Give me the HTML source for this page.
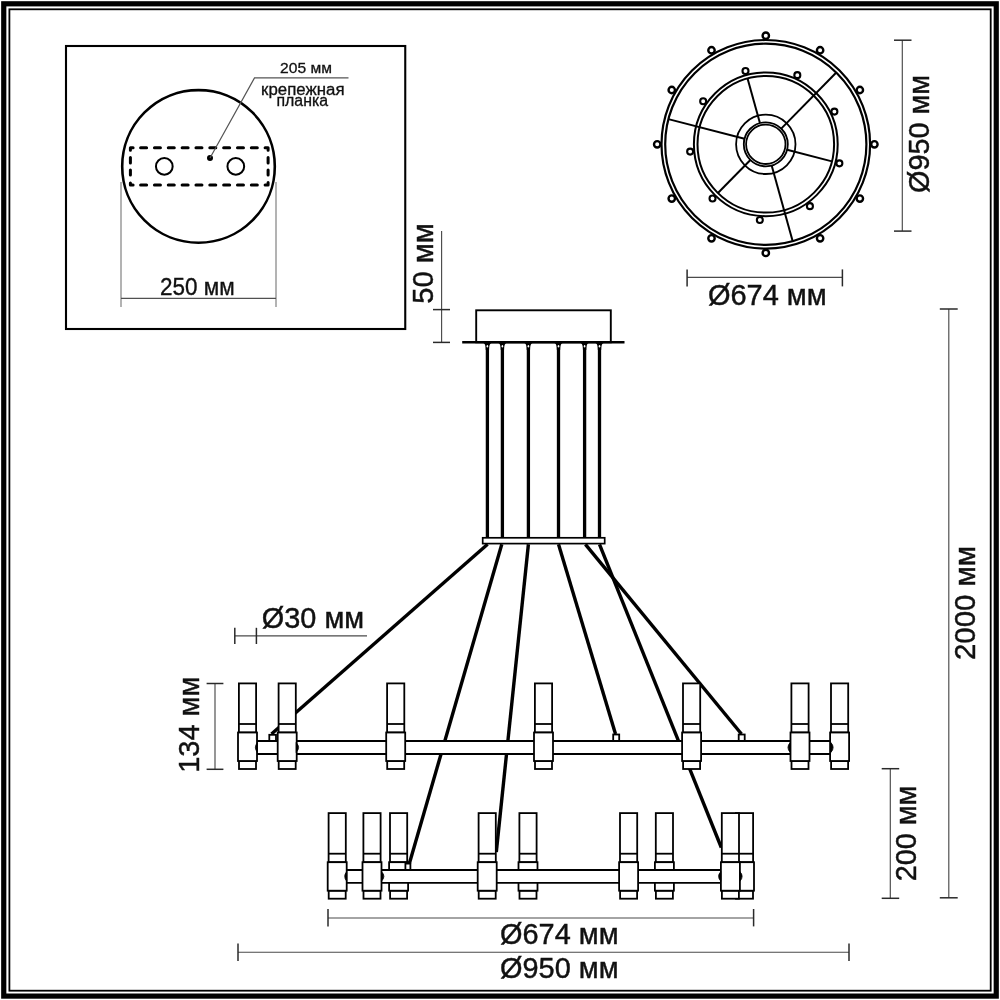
<!DOCTYPE html>
<html><head><meta charset="utf-8"><title>drawing</title>
<style>
html,body{margin:0;padding:0;background:#fff;width:1000px;height:1000px;overflow:hidden;}
svg{display:block;will-change:transform;}
text{font-family:"Liberation Sans",sans-serif;}
</style></head><body>
<svg width="1000" height="1000" viewBox="0 0 1000 1000">
<rect x="3.75" y="3.8" width="992.5" height="992.3" fill="none" stroke="#000" stroke-width="5.2"/>
<rect x="9.4" y="9.3" width="981.3" height="981.4" fill="none" stroke="#000" stroke-width="1.8"/>
<rect x="66" y="46" width="339.25" height="283" fill="none" stroke="#000" stroke-width="2.1"/>
<circle cx="198.5" cy="166.4" r="76.3" fill="none" stroke="#000" stroke-width="2.6"/>
<path d="M130.4,150.2 L130.4,147.8 L133.1,147.8 M265.1,147.8 L268.1,147.8 L268.1,150.2 M268.1,182.6 L268.1,185.0 L265.1,185.0 M133.1,185.0 L130.4,185.0 L130.4,182.9 M140.60,147.8 L146.60,147.8 M140.60,185.0 L146.60,185.0 M154.44,147.8 L160.44,147.8 M154.44,185.0 L160.44,185.0 M168.28,147.8 L174.28,147.8 M168.28,185.0 L174.28,185.0 M182.12,147.8 L188.12,147.8 M182.12,185.0 L188.12,185.0 M195.96,147.8 L201.96,147.8 M195.96,185.0 L201.96,185.0 M209.80,147.8 L215.80,147.8 M209.80,185.0 L215.80,185.0 M223.64,147.8 L229.64,147.8 M223.64,185.0 L229.64,185.0 M237.48,147.8 L243.48,147.8 M237.48,185.0 L243.48,185.0 M251.32,147.8 L257.32,147.8 M251.32,185.0 L257.32,185.0 M130.4,157.4 L130.4,163.0 M268.1,157.4 L268.1,163.0 M130.4,169.9 L130.4,175.1 M268.1,169.9 L268.1,175.1" fill="none" stroke="#000" stroke-width="3" stroke-linecap="round" stroke-linejoin="round"/>
<circle cx="164.3" cy="166.4" r="8.35" fill="none" stroke="#000" stroke-width="2.0"/>
<circle cx="235.8" cy="166.4" r="8.35" fill="none" stroke="#000" stroke-width="2.0"/>
<circle cx="210" cy="158.1" r="3.0" fill="#000"/>
<polyline points="210,158 254.5,77.9 348.5,77.9" fill="none" stroke="#555" stroke-width="1.2"/>
<line x1="121" y1="182" x2="121" y2="307" stroke="#808080" stroke-width="1.2"/>
<line x1="276" y1="182" x2="276" y2="307" stroke="#808080" stroke-width="1.2"/>
<line x1="121" y1="298.4" x2="276" y2="298.4" stroke="#505050" stroke-width="1.2"/>
<text x="280.1" y="73.2" font-size="15.2" fill="#111" stroke="#111" stroke-width="0.30" textLength="51.86" lengthAdjust="spacingAndGlyphs">205 мм</text>
<text x="261.1" y="95.2" font-size="15.8" fill="#111" stroke="#111" stroke-width="0.32" textLength="83.43" lengthAdjust="spacingAndGlyphs">крепежная</text>
<text x="276.5" y="106.2" font-size="15.8" fill="#111" stroke="#111" stroke-width="0.32" textLength="51.61" lengthAdjust="spacingAndGlyphs">планка</text>
<text x="160.0" y="294.5" font-size="23.4" fill="#111" stroke="#111" stroke-width="0.35" textLength="74.67" lengthAdjust="spacingAndGlyphs">250 мм</text>
<line x1="441.6" y1="231" x2="441.6" y2="343" stroke="#4a4a4a" stroke-width="1.15"/>
<line x1="433" y1="309.6" x2="450" y2="309.6" stroke="#2a2a2a" stroke-width="1.5"/>
<line x1="433" y1="342.4" x2="450" y2="342.4" stroke="#2a2a2a" stroke-width="1.5"/>
<text x="433.1" y="303.8" font-size="30.2" fill="#111" stroke="#111" stroke-width="0.45" textLength="80.5" lengthAdjust="spacingAndGlyphs" transform="rotate(-90 433.1 303.8)">50 мм</text>
<circle cx="765.8" cy="144.3" r="104.3" fill="none" stroke="#000" stroke-width="2.2"/>
<circle cx="765.8" cy="144.3" r="100.6" fill="none" stroke="#000" stroke-width="2.2"/>
<circle cx="765.8" cy="144.3" r="71.9" fill="none" stroke="#000" stroke-width="2.0"/>
<circle cx="765.8" cy="144.3" r="68.3" fill="none" stroke="#000" stroke-width="2.0"/>
<circle cx="765.8" cy="144.3" r="29.7" fill="none" stroke="#000" stroke-width="1.8"/>
<circle cx="765.8" cy="144.3" r="22.0" fill="none" stroke="#000" stroke-width="1.8"/>
<circle cx="765.8" cy="144.3" r="19.7" fill="none" stroke="#000" stroke-width="1.8"/>
<line x1="759.92" y1="123.10" x2="747.55" y2="78.48" stroke="#000" stroke-width="2.0"/>
<line x1="781.22" y1="128.61" x2="836.31" y2="72.55" stroke="#000" stroke-width="2.0"/>
<line x1="787.10" y1="149.81" x2="831.92" y2="161.40" stroke="#000" stroke-width="2.0"/>
<line x1="771.68" y1="165.50" x2="792.68" y2="241.24" stroke="#000" stroke-width="2.0"/>
<line x1="750.38" y1="159.99" x2="717.93" y2="193.02" stroke="#000" stroke-width="2.0"/>
<line x1="744.50" y1="138.79" x2="668.40" y2="119.11" stroke="#000" stroke-width="2.0"/>
<circle cx="765.80" cy="35.70" r="3.2" fill="#fff" stroke="#000" stroke-width="2.4"/>
<circle cx="820.10" cy="50.25" r="3.2" fill="#fff" stroke="#000" stroke-width="2.4"/>
<circle cx="859.85" cy="90.00" r="3.2" fill="#fff" stroke="#000" stroke-width="2.4"/>
<circle cx="874.40" cy="144.30" r="3.2" fill="#fff" stroke="#000" stroke-width="2.4"/>
<circle cx="859.85" cy="198.60" r="3.2" fill="#fff" stroke="#000" stroke-width="2.4"/>
<circle cx="820.10" cy="238.35" r="3.2" fill="#fff" stroke="#000" stroke-width="2.4"/>
<circle cx="765.80" cy="252.90" r="3.2" fill="#fff" stroke="#000" stroke-width="2.4"/>
<circle cx="711.50" cy="238.35" r="3.2" fill="#fff" stroke="#000" stroke-width="2.4"/>
<circle cx="671.75" cy="198.60" r="3.2" fill="#fff" stroke="#000" stroke-width="2.4"/>
<circle cx="657.20" cy="144.30" r="3.2" fill="#fff" stroke="#000" stroke-width="2.4"/>
<circle cx="671.75" cy="90.00" r="3.2" fill="#fff" stroke="#000" stroke-width="2.4"/>
<circle cx="711.50" cy="50.25" r="3.2" fill="#fff" stroke="#000" stroke-width="2.4"/>
<circle cx="745.49" cy="71.06" r="3.0" fill="#fff" stroke="#000" stroke-width="2.1"/>
<circle cx="797.32" cy="75.14" r="3.0" fill="#fff" stroke="#000" stroke-width="2.1"/>
<circle cx="834.40" cy="111.58" r="3.0" fill="#fff" stroke="#000" stroke-width="2.1"/>
<circle cx="839.38" cy="163.33" r="3.0" fill="#fff" stroke="#000" stroke-width="2.1"/>
<circle cx="809.93" cy="206.17" r="3.0" fill="#fff" stroke="#000" stroke-width="2.1"/>
<circle cx="759.84" cy="220.07" r="3.0" fill="#fff" stroke="#000" stroke-width="2.1"/>
<circle cx="712.53" cy="198.51" r="3.0" fill="#fff" stroke="#000" stroke-width="2.1"/>
<circle cx="690.15" cy="151.58" r="3.0" fill="#fff" stroke="#000" stroke-width="2.1"/>
<circle cx="703.17" cy="101.25" r="3.0" fill="#fff" stroke="#000" stroke-width="2.1"/>
<line x1="902.3" y1="40.2" x2="902.3" y2="231.1" stroke="#4a4a4a" stroke-width="1.15"/>
<line x1="894" y1="40.2" x2="911.5" y2="40.2" stroke="#2a2a2a" stroke-width="1.5"/>
<line x1="894" y1="231.1" x2="911.5" y2="231.1" stroke="#2a2a2a" stroke-width="1.5"/>
<text x="929.4" y="193.0" font-size="29.0" fill="#111" stroke="#111" stroke-width="0.43" textLength="118.2" lengthAdjust="spacingAndGlyphs" transform="rotate(-90 929.4 193.0)">Ø950 мм</text>
<line x1="687.1" y1="277.3" x2="842.4" y2="277.3" stroke="#4a4a4a" stroke-width="1.15"/>
<line x1="687.1" y1="269.4" x2="687.1" y2="286.4" stroke="#2a2a2a" stroke-width="1.5"/>
<line x1="842.4" y1="269.4" x2="842.4" y2="286.4" stroke="#2a2a2a" stroke-width="1.5"/>
<text x="707.9" y="304.5" font-size="29.2" fill="#111" stroke="#111" stroke-width="0.44" textLength="118.82" lengthAdjust="spacingAndGlyphs">Ø674 мм</text>
<rect x="476.2" y="310.3" width="134.6" height="32" fill="#fff" stroke="#000" stroke-width="1.9"/>
<line x1="487.4" y1="343" x2="487.4" y2="538" stroke="#000" stroke-width="3.3"/>
<path d="M483.4,343 Q485.75,343.6 485.75,350 L489.04999999999995,350 Q489.04999999999995,343.6 491.4,343 Z" fill="#000"/>
<ellipse cx="487.4" cy="346.2" rx="0.8" ry="1.3" fill="#fff"/>
<line x1="502.4" y1="343" x2="502.4" y2="538" stroke="#000" stroke-width="3.3"/>
<path d="M498.4,343 Q500.75,343.6 500.75,350 L504.04999999999995,350 Q504.04999999999995,343.6 506.4,343 Z" fill="#000"/>
<ellipse cx="502.4" cy="346.2" rx="0.8" ry="1.3" fill="#fff"/>
<line x1="528.4" y1="343" x2="528.4" y2="538" stroke="#000" stroke-width="3.3"/>
<path d="M524.4,343 Q526.75,343.6 526.75,350 L530.05,350 Q530.05,343.6 532.4,343 Z" fill="#000"/>
<ellipse cx="528.4" cy="346.2" rx="0.8" ry="1.3" fill="#fff"/>
<line x1="558.5" y1="343" x2="558.5" y2="538" stroke="#000" stroke-width="3.3"/>
<path d="M554.5,343 Q556.85,343.6 556.85,350 L560.15,350 Q560.15,343.6 562.5,343 Z" fill="#000"/>
<ellipse cx="558.5" cy="346.2" rx="0.8" ry="1.3" fill="#fff"/>
<line x1="584.6" y1="343" x2="584.6" y2="538" stroke="#000" stroke-width="3.3"/>
<path d="M580.6,343 Q582.95,343.6 582.95,350 L586.25,350 Q586.25,343.6 588.6,343 Z" fill="#000"/>
<ellipse cx="584.6" cy="346.2" rx="0.8" ry="1.3" fill="#fff"/>
<line x1="599.5" y1="343" x2="599.5" y2="538" stroke="#000" stroke-width="3.3"/>
<path d="M595.5,343 Q597.85,343.6 597.85,350 L601.15,350 Q601.15,343.6 603.5,343 Z" fill="#000"/>
<ellipse cx="599.5" cy="346.2" rx="0.8" ry="1.3" fill="#fff"/>
<line x1="462.2" y1="342.2" x2="624.5" y2="342.2" stroke="#000" stroke-width="2.6"/>
<rect x="390.00" y="813.10" width="17.2" height="49.10" fill="#fff" stroke="#000" stroke-width="1.8"/><line x1="390.00" y1="853.70" x2="407.20" y2="853.70" stroke="#000" stroke-width="1.8"/><rect x="390.10" y="890.70" width="17.0" height="8.00" fill="#fff" stroke="#000" stroke-width="1.8"/><rect x="389.10" y="862.20" width="19.0" height="28.50" fill="#fff" stroke="#000" stroke-width="1.8"/>
<rect x="519.40" y="813.10" width="17.2" height="49.10" fill="#fff" stroke="#000" stroke-width="1.8"/><line x1="519.40" y1="853.70" x2="536.60" y2="853.70" stroke="#000" stroke-width="1.8"/><rect x="519.50" y="890.70" width="17.0" height="8.00" fill="#fff" stroke="#000" stroke-width="1.8"/><rect x="518.50" y="862.20" width="19.0" height="28.50" fill="#fff" stroke="#000" stroke-width="1.8"/>
<rect x="655.80" y="813.10" width="17.2" height="49.10" fill="#fff" stroke="#000" stroke-width="1.8"/><line x1="655.80" y1="853.70" x2="673.00" y2="853.70" stroke="#000" stroke-width="1.8"/><rect x="655.90" y="890.70" width="17.0" height="8.00" fill="#fff" stroke="#000" stroke-width="1.8"/><rect x="654.90" y="862.20" width="19.0" height="28.50" fill="#fff" stroke="#000" stroke-width="1.8"/>
<rect x="735.90" y="813.10" width="17.2" height="49.10" fill="#fff" stroke="#000" stroke-width="1.8"/><line x1="735.90" y1="853.70" x2="753.10" y2="853.70" stroke="#000" stroke-width="1.8"/><rect x="736.00" y="890.70" width="17.0" height="8.00" fill="#fff" stroke="#000" stroke-width="1.8"/><rect x="735.00" y="862.20" width="19.0" height="28.50" fill="#fff" stroke="#000" stroke-width="1.8"/>
<line x1="487.6" y1="544.3" x2="271.5" y2="734.0" stroke="#000" stroke-width="3.4"/>
<line x1="501.8" y1="544.3" x2="409.2" y2="864.0" stroke="#000" stroke-width="3.4"/>
<line x1="528.4" y1="544.3" x2="496.3" y2="852.0" stroke="#000" stroke-width="3.4"/>
<line x1="558.5" y1="544.3" x2="615.5" y2="734.0" stroke="#000" stroke-width="3.4"/>
<line x1="585.4" y1="544.3" x2="741.5" y2="734.0" stroke="#000" stroke-width="3.4"/>
<line x1="599.5" y1="544.3" x2="721.3" y2="847.5" stroke="#000" stroke-width="3.4"/>
<rect x="482.7" y="537.8" width="122" height="5.8" fill="#fff" stroke="#000" stroke-width="1.7"/>
<rect x="269.3" y="734.8" width="6.699999999999989" height="6.300000000000068" fill="#fff" stroke="#000" stroke-width="1.8"/>
<rect x="613.2" y="734.5" width="6.0" height="6.5" fill="#fff" stroke="#000" stroke-width="1.8"/>
<rect x="738.7" y="734.5" width="6.0" height="6.5" fill="#fff" stroke="#000" stroke-width="1.8"/>
<rect x="247.5" y="741.0" width="592.1" height="13.0" fill="#fff" stroke="none"/>
<line x1="247.5" y1="741.0" x2="839.6" y2="741.0" stroke="#000" stroke-width="1.8"/>
<line x1="247.5" y1="754.0" x2="839.6" y2="754.0" stroke="#000" stroke-width="1.8"/>
<rect x="238.90" y="683.40" width="17.2" height="49.10" fill="#fff" stroke="#000" stroke-width="1.8"/><line x1="238.90" y1="724.00" x2="256.10" y2="724.00" stroke="#000" stroke-width="1.8"/><rect x="239.00" y="761.00" width="17.0" height="8.00" fill="#fff" stroke="#000" stroke-width="1.8"/><rect x="238.00" y="732.50" width="19.0" height="28.50" fill="#fff" stroke="#000" stroke-width="1.8"/>
<rect x="278.60" y="683.40" width="17.2" height="49.10" fill="#fff" stroke="#000" stroke-width="1.8"/><line x1="278.60" y1="724.00" x2="295.80" y2="724.00" stroke="#000" stroke-width="1.8"/><rect x="278.70" y="761.00" width="17.0" height="8.00" fill="#fff" stroke="#000" stroke-width="1.8"/><rect x="277.70" y="732.50" width="19.0" height="28.50" fill="#fff" stroke="#000" stroke-width="1.8"/>
<rect x="387.10" y="683.40" width="17.2" height="49.10" fill="#fff" stroke="#000" stroke-width="1.8"/><line x1="387.10" y1="724.00" x2="404.30" y2="724.00" stroke="#000" stroke-width="1.8"/><rect x="387.20" y="761.00" width="17.0" height="8.00" fill="#fff" stroke="#000" stroke-width="1.8"/><rect x="386.20" y="732.50" width="19.0" height="28.50" fill="#fff" stroke="#000" stroke-width="1.8"/>
<rect x="534.90" y="683.40" width="17.2" height="49.10" fill="#fff" stroke="#000" stroke-width="1.8"/><line x1="534.90" y1="724.00" x2="552.10" y2="724.00" stroke="#000" stroke-width="1.8"/><rect x="535.00" y="761.00" width="17.0" height="8.00" fill="#fff" stroke="#000" stroke-width="1.8"/><rect x="534.00" y="732.50" width="19.0" height="28.50" fill="#fff" stroke="#000" stroke-width="1.8"/>
<rect x="683.00" y="683.40" width="17.2" height="49.10" fill="#fff" stroke="#000" stroke-width="1.8"/><line x1="683.00" y1="724.00" x2="700.20" y2="724.00" stroke="#000" stroke-width="1.8"/><rect x="683.10" y="761.00" width="17.0" height="8.00" fill="#fff" stroke="#000" stroke-width="1.8"/><rect x="682.10" y="732.50" width="19.0" height="28.50" fill="#fff" stroke="#000" stroke-width="1.8"/>
<rect x="791.40" y="683.40" width="17.2" height="49.10" fill="#fff" stroke="#000" stroke-width="1.8"/><line x1="791.40" y1="724.00" x2="808.60" y2="724.00" stroke="#000" stroke-width="1.8"/><rect x="791.50" y="761.00" width="17.0" height="8.00" fill="#fff" stroke="#000" stroke-width="1.8"/><rect x="790.50" y="732.50" width="19.0" height="28.50" fill="#fff" stroke="#000" stroke-width="1.8"/>
<rect x="831.00" y="683.40" width="17.2" height="49.10" fill="#fff" stroke="#000" stroke-width="1.8"/><line x1="831.00" y1="724.00" x2="848.20" y2="724.00" stroke="#000" stroke-width="1.8"/><rect x="831.10" y="761.00" width="17.0" height="8.00" fill="#fff" stroke="#000" stroke-width="1.8"/><rect x="830.10" y="732.50" width="19.0" height="28.50" fill="#fff" stroke="#000" stroke-width="1.8"/>
<path d="M257.4,742.6 Q253.39999999999998,747.5 257.4,752.4 Z" fill="#000" stroke="#000" stroke-width="0.8"/>
<path d="M296.1,742.6 Q301.1,747.5 296.1,752.4 Z" fill="#000" stroke="#000" stroke-width="0.8"/>
<path d="M790.2,742.6 Q785.7,747.5 790.2,752.4 Z" fill="#000" stroke="#000" stroke-width="0.8"/>
<path d="M830.9,742.6 Q835.4,747.5 830.9,752.4 Z" fill="#000" stroke="#000" stroke-width="0.8"/>
<rect x="405.4" y="863.6" width="5.0" height="6.2999999999999545" fill="#fff" stroke="#000" stroke-width="1.8"/>
<rect x="337.2" y="870.0" width="393.2" height="12.799999999999955" fill="#fff" stroke="none"/>
<line x1="337.2" y1="870.0" x2="730.4" y2="870.0" stroke="#000" stroke-width="1.8"/>
<line x1="337.2" y1="882.8" x2="730.4" y2="882.8" stroke="#000" stroke-width="1.8"/>
<rect x="328.60" y="813.10" width="17.2" height="49.10" fill="#fff" stroke="#000" stroke-width="1.8"/><line x1="328.60" y1="853.70" x2="345.80" y2="853.70" stroke="#000" stroke-width="1.8"/><rect x="328.70" y="890.70" width="17.0" height="8.00" fill="#fff" stroke="#000" stroke-width="1.8"/><rect x="327.70" y="862.20" width="19.0" height="28.50" fill="#fff" stroke="#000" stroke-width="1.8"/>
<rect x="363.40" y="813.10" width="17.2" height="49.10" fill="#fff" stroke="#000" stroke-width="1.8"/><line x1="363.40" y1="853.70" x2="380.60" y2="853.70" stroke="#000" stroke-width="1.8"/><rect x="363.50" y="890.70" width="17.0" height="8.00" fill="#fff" stroke="#000" stroke-width="1.8"/><rect x="362.50" y="862.20" width="19.0" height="28.50" fill="#fff" stroke="#000" stroke-width="1.8"/>
<rect x="478.60" y="813.10" width="17.2" height="49.10" fill="#fff" stroke="#000" stroke-width="1.8"/><line x1="478.60" y1="853.70" x2="495.80" y2="853.70" stroke="#000" stroke-width="1.8"/><rect x="478.70" y="890.70" width="17.0" height="8.00" fill="#fff" stroke="#000" stroke-width="1.8"/><rect x="477.70" y="862.20" width="19.0" height="28.50" fill="#fff" stroke="#000" stroke-width="1.8"/>
<rect x="620.00" y="813.10" width="17.2" height="49.10" fill="#fff" stroke="#000" stroke-width="1.8"/><line x1="620.00" y1="853.70" x2="637.20" y2="853.70" stroke="#000" stroke-width="1.8"/><rect x="620.10" y="890.70" width="17.0" height="8.00" fill="#fff" stroke="#000" stroke-width="1.8"/><rect x="619.10" y="862.20" width="19.0" height="28.50" fill="#fff" stroke="#000" stroke-width="1.8"/>
<rect x="721.80" y="813.10" width="17.2" height="49.10" fill="#fff" stroke="#000" stroke-width="1.8"/><line x1="721.80" y1="853.70" x2="739.00" y2="853.70" stroke="#000" stroke-width="1.8"/><rect x="721.90" y="890.70" width="17.0" height="8.00" fill="#fff" stroke="#000" stroke-width="1.8"/><rect x="720.90" y="862.20" width="19.0" height="28.50" fill="#fff" stroke="#000" stroke-width="1.8"/>
<path d="M346.7,871.6 Q342.7,876.4 346.7,881.1999999999999 Z" fill="#000" stroke="#000" stroke-width="0.8"/>
<path d="M381.4,871.6 Q386.4,876.4 381.4,881.1999999999999 Z" fill="#000" stroke="#000" stroke-width="0.8"/>
<path d="M720.8,871.6 Q716.3,876.4 720.8,881.1999999999999 Z" fill="#000" stroke="#000" stroke-width="0.8"/>
<path d="M739.9,871.6 Q744.4,876.4 739.9,881.1999999999999 Z" fill="#000" stroke="#000" stroke-width="0.8"/>
<line x1="234.8" y1="635.9" x2="367" y2="635.9" stroke="#4a4a4a" stroke-width="1.15"/>
<line x1="234.8" y1="627.8" x2="234.8" y2="644" stroke="#2a2a2a" stroke-width="1.5"/>
<line x1="256.4" y1="627.8" x2="256.4" y2="644" stroke="#2a2a2a" stroke-width="1.5"/>
<text x="261.8" y="627.7" font-size="29.8" fill="#111" stroke="#111" stroke-width="0.45" textLength="102.33" lengthAdjust="spacingAndGlyphs">Ø30 мм</text>
<line x1="215" y1="683.5" x2="215" y2="769.3" stroke="#4a4a4a" stroke-width="1.15"/>
<line x1="206.6" y1="683.5" x2="223.4" y2="683.5" stroke="#2a2a2a" stroke-width="1.5"/>
<line x1="206.6" y1="769.3" x2="223.4" y2="769.3" stroke="#2a2a2a" stroke-width="1.5"/>
<text x="199.0" y="772.7" font-size="30.3" fill="#111" stroke="#111" stroke-width="0.45" textLength="95.99" lengthAdjust="spacingAndGlyphs" transform="rotate(-90 199.0 772.7)">134 мм</text>
<line x1="948.8" y1="309" x2="948.8" y2="897.8" stroke="#4a4a4a" stroke-width="1.15"/>
<line x1="939.8" y1="309" x2="957.7" y2="309" stroke="#2a2a2a" stroke-width="1.5"/>
<line x1="939.8" y1="897.8" x2="957.7" y2="897.8" stroke="#2a2a2a" stroke-width="1.5"/>
<text x="974.6" y="660.0" font-size="30.4" fill="#111" stroke="#111" stroke-width="0.46" textLength="114.03" lengthAdjust="spacingAndGlyphs" transform="rotate(-90 974.6 660.0)">2000 мм</text>
<line x1="890.3" y1="768.8" x2="890.3" y2="898.3" stroke="#4a4a4a" stroke-width="1.15"/>
<line x1="881.7" y1="768.7" x2="899.2" y2="768.7" stroke="#2a2a2a" stroke-width="1.5"/>
<line x1="881.7" y1="898.3" x2="899.2" y2="898.3" stroke="#2a2a2a" stroke-width="1.5"/>
<text x="916.3" y="881.3" font-size="29.8" fill="#111" stroke="#111" stroke-width="0.45" textLength="95.69" lengthAdjust="spacingAndGlyphs" transform="rotate(-90 916.3 881.3)">200 мм</text>
<line x1="328" y1="918" x2="753.6" y2="918" stroke="#4a4a4a" stroke-width="1.15"/>
<line x1="328" y1="909" x2="328" y2="926.4" stroke="#2a2a2a" stroke-width="1.5"/>
<line x1="753.6" y1="909" x2="753.6" y2="926.4" stroke="#2a2a2a" stroke-width="1.5"/>
<text x="500.0" y="944.3" font-size="29.2" fill="#111" stroke="#111" stroke-width="0.44" textLength="118.52" lengthAdjust="spacingAndGlyphs">Ø674 мм</text>
<line x1="238" y1="952.2" x2="849" y2="952.2" stroke="#4a4a4a" stroke-width="1.15"/>
<line x1="238" y1="943.6" x2="238" y2="961" stroke="#2a2a2a" stroke-width="1.5"/>
<line x1="849" y1="943.6" x2="849" y2="961" stroke="#2a2a2a" stroke-width="1.5"/>
<text x="500.0" y="978.0" font-size="29.2" fill="#111" stroke="#111" stroke-width="0.44" textLength="118.52" lengthAdjust="spacingAndGlyphs">Ø950 мм</text>
</svg>
</body></html>
